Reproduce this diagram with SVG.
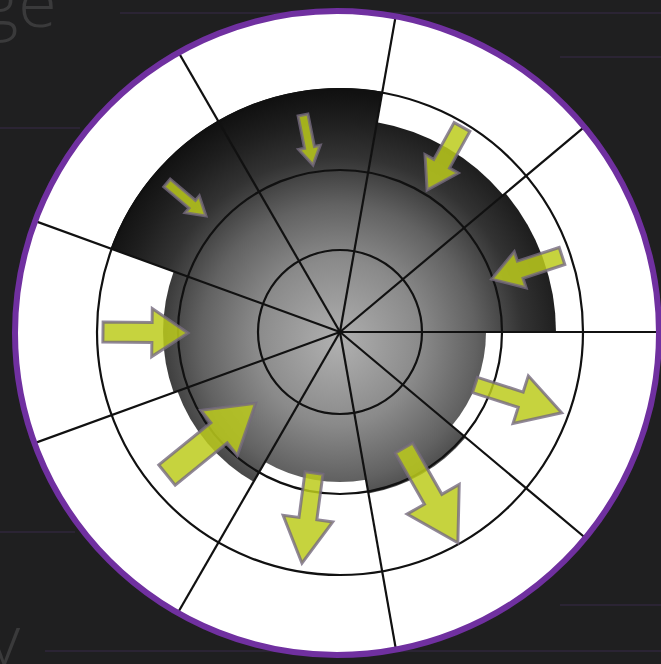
<svg xmlns="http://www.w3.org/2000/svg" width="661" height="664" viewBox="0 0 661 664">
  <defs>
    <style>
      .bgline { stroke: #2b2434; stroke-width: 2; }
      .bgtext { font-family: "Open Sans", "Liberation Sans", sans-serif; font-weight: 300; font-size: 70px; fill: #3a3a3b; }
      .ring { fill: none; stroke: #111; stroke-width: 2.2; }
      .spoke { stroke: #111; stroke-width: 2.2; }
      .sector { fill: url(#shade); }
      .arrow { fill: #bccb1c; fill-opacity: 0.85; stroke: #766a80; stroke-opacity: 0.8; stroke-width: 3; stroke-linejoin: miter; }
    </style>
    <radialGradient id="shade" gradientUnits="userSpaceOnUse" cx="338" cy="342" r="250" fx="338" fy="342">
      <stop offset="0" stop-color="#b0b0b0"/>
      <stop offset="0.33" stop-color="#8a8a8a"/>
      <stop offset="0.55" stop-color="#626262"/>
      <stop offset="0.66" stop-color="#474747"/>
      <stop offset="0.74" stop-color="#333"/>
      <stop offset="0.88" stop-color="#1f1f1f"/>
      <stop offset="1" stop-color="#111"/>
    </radialGradient>
    <clipPath id="disk">
      <circle cx="337" cy="333" r="322"/>
    </clipPath>
  </defs>

  <rect width="661" height="664" fill="#1f1f20"/>

  <g id="background">
    <line class="bgline" x1="120" y1="13" x2="661" y2="13"/>
    <line class="bgline" x1="560" y1="57" x2="661" y2="57"/>
    <line class="bgline" x1="0" y1="128" x2="80" y2="128"/>
    <line class="bgline" x1="0" y1="532" x2="75" y2="532"/>
    <line class="bgline" x1="560" y1="605" x2="661" y2="605"/>
    <line class="bgline" x1="45" y1="651" x2="661" y2="651"/>
    <text class="bgtext" x="-18" y="27">ge</text>
    <text class="bgtext" x="-12" y="665">y</text>
  </g>

  <g id="disk-base">
    <circle cx="337" cy="333" r="322" fill="#fff"/>
  </g>

  <g id="sectors">
    <path class="sector" d="M340,332 L556,332 A216,216 0 0 0 505.5,193.2 Z"/>
    <path class="sector" d="M340,332 L503.2,195.1 A213,213 0 0 0 377,122.2 Z"/>
    <path class="sector" d="M340,332 L382.4,91.7 A244,244 0 0 0 218,120.7 Z"/>
    <path class="sector" d="M340,332 L218,120.7 A244,244 0 0 0 110.7,248.6 Z"/>
    <path class="sector" d="M340,332 L173.7,271.5 A177,177 0 0 0 173.7,392.5 Z"/>
    <path class="sector" d="M340,332 L177.4,391.2 A173,173 0 0 0 253.5,481.8 Z"/>
    <path class="sector" d="M340,332 L265,461.9 A150,150 0 0 0 366,479.7 Z"/>
    <path class="sector" d="M340,332 L368.5,493.5 A164,164 0 0 0 465.6,437.4 Z"/>
    <path class="sector" d="M340,332 L451.8,425.8 A146,146 0 0 0 486,332 Z"/>
  </g>

  <g id="rings">
    <circle class="ring" cx="340" cy="332" r="82"/>
    <circle class="ring" cx="340" cy="332" r="162"/>
    <circle class="ring" cx="340" cy="332" r="243"/>
  </g>

  <g id="spokes" clip-path="url(#disk)">
    <line class="spoke" x1="340" y1="332" x2="740" y2="332"/>
    <line class="spoke" x1="340" y1="332" x2="646.4" y2="74.9"/>
    <line class="spoke" x1="340" y1="332" x2="409.4" y2="-61.9"/>
    <line class="spoke" x1="340" y1="332" x2="140" y2="-14.4"/>
    <line class="spoke" x1="340" y1="332" x2="-35.9" y2="195.2"/>
    <line class="spoke" x1="340" y1="332" x2="-35.9" y2="468.8"/>
    <line class="spoke" x1="340" y1="332" x2="140" y2="678.4"/>
    <line class="spoke" x1="340" y1="332" x2="409.4" y2="725.9"/>
    <line class="spoke" x1="340" y1="332" x2="646.4" y2="589.1"/>
  </g>

  <g id="arrows">
    <polygon class="arrow" points="0,-5 33,-5 33,-11 51,0 33,11 33,5 0,5" transform="translate(303,115) rotate(78.7)"/>
    <polygon class="arrow" points="0,-5 33,-5 33,-11 51,0 33,11 33,5 0,5" transform="translate(167,183) rotate(40.2)"/>
    <polygon class="arrow" points="0,-9 42,-9 42,-19 72,0 42,19 42,9 0,9" transform="translate(462,127) rotate(119)"/>
    <polygon class="arrow" points="0,-9 44,-9 44,-19 74,0 44,19 44,9 0,9" transform="translate(562,256) rotate(161.8)"/>
    <polygon class="arrow" points="0,-10 49,-10 49,-24 85,0 49,24 49,10 0,10" transform="translate(103,332) rotate(0.7)"/>
    <polygon class="arrow" points="0,-13 67,-13 67,-29 114,0 67,29 67,13 0,13" transform="translate(167,475) rotate(-39)"/>
    <polygon class="arrow" points="0,-9 46,-9 46,-25 91,0 46,25 46,9 0,9" transform="translate(314,473) rotate(97.6)"/>
    <polygon class="arrow" points="0,-10 59,-10 59,-30 109,0 59,30 59,10 0,10" transform="translate(404,448) rotate(60.4)"/>
    <polygon class="arrow" points="0,-8 48,-8 48,-25 91,0 48,25 48,8 0,8" transform="translate(475,385) rotate(17.8)"/>
  </g>

  <g id="border">
    <circle cx="337" cy="333" r="322" fill="none" stroke="#7030a0" stroke-width="6"/>
  </g>
</svg>
